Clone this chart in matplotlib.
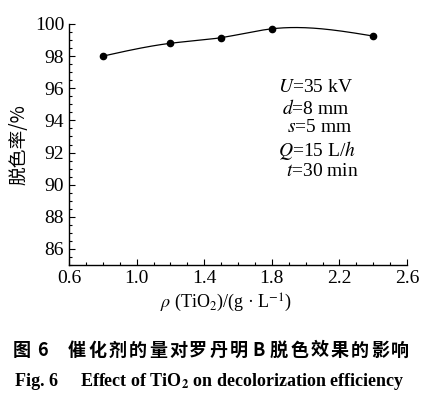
import numpy as np
import matplotlib

matplotlib.use("Agg")
from matplotlib import pyplot as plt
from matplotlib.ticker import MultipleLocator

# data
tio2 = [0.8, 1.2, 1.5, 1.8, 2.4]
decolor = [98.0, 98.8, 99.15, 99.7, 99.25]
conditions = ["$U$=35 kV", "$d$=8 mm", "$s$=5 mm", "$Q$=15 L/$h$", "$t$=30 min"]
x_ticks = [0.6, 1.0, 1.4, 1.8, 2.2, 2.6]
y_ticks = [86, 88, 90, 92, 94, 96, 98, 100]
caption_cn = "催化剂的量对罗丹明B脱色效果的影响"

plt.rcParams["font.family"] = ["Liberation Serif", "Noto Sans CJK SC"]
plt.rcParams["mathtext.fontset"] = "stix"
CJK = ["Noto Sans CJK SC", "DejaVu Sans"]


def natural_spline(x, y, n=200):
    x = np.asarray(x, float)
    y = np.asarray(y, float)
    k = len(x)
    h = np.diff(x)
    a = np.zeros((k, k))
    b = np.zeros(k)
    a[0, 0] = a[-1, -1] = 1.0
    for i in range(1, k - 1):
        a[i, i - 1] = h[i - 1]
        a[i, i] = 2 * (h[i - 1] + h[i])
        a[i, i + 1] = h[i]
        b[i] = 6 * ((y[i + 1] - y[i]) / h[i] - (y[i] - y[i - 1]) / h[i - 1])
    m = np.linalg.solve(a, b)
    xs = np.linspace(x[0], x[-1], n)
    idx = np.clip(np.searchsorted(x, xs) - 1, 0, k - 2)
    x0, x1 = x[idx], x[idx + 1]
    hh = x1 - x0
    t0, t1 = x1 - xs, xs - x0
    ys = (m[idx] * t0**3 + m[idx + 1] * t1**3) / (6 * hh) \
        + (y[idx] / hh - m[idx] * hh / 6) * t0 + (y[idx + 1] / hh - m[idx + 1] * hh / 6) * t1
    return xs, ys


W, H = 428, 399
fig = plt.figure(figsize=(W / 100, H / 100), dpi=100)
ax = fig.add_axes([69 / W, 1 - 265 / H, 338 / W, 241 / H])

xs, ys = natural_spline(tio2, decolor)
ax.plot(xs, ys, color="black", lw=0.9)
ax.plot(tio2, decolor, "o", color="black", ms=4.5)

ax.set_xlim(0.6, 2.6)
ax.set_ylim(85, 100)
ax.set_xticks(x_ticks)
ax.set_xticklabels([f"{v:.1f}" for v in x_ticks])
ax.set_yticks(y_ticks)
ax.xaxis.set_minor_locator(MultipleLocator(0.1))
ax.yaxis.set_minor_locator(MultipleLocator(0.5))
ax.tick_params(which="both", direction="in", labelsize=14, width=0.8)
ax.tick_params(which="major", length=4)
ax.tick_params(which="minor", length=2)
ax.spines["top"].set_visible(False)
ax.spines["right"].set_visible(False)
ax.spines["left"].set_linewidth(1.0)
ax.spines["bottom"].set_linewidth(1.0)

fig.text(226 / W, 1 - 303 / H, r"$\rho$ (TiO$_2$)/(g · L$^{-1}$)", fontsize=13,
         ha="center", va="center")
ax.set_ylabel("脱色率/%", fontsize=13.5, family=CJK, labelpad=4)

# condition block
x_px = [278, 282, 287, 278, 286]
y_px = [88, 108, 128, 150, 172]
for txt, xp, yp in zip(conditions, x_px, y_px):
    fig.text(xp / W, 1 - yp / H, txt, fontsize=14, va="center", ha="left")

# caption, characters spaced like the printed figure
fig.text(22 / W, 1 - 350 / H, "图", fontsize=13, weight="bold", ha="center", va="center", family=CJK)
fig.text(42 / W, 1 - 350 / H, "6", fontsize=13, weight="bold", ha="center", va="center", family=CJK)
for i, ch in enumerate(caption_cn):
    fig.text((77 + i * 20.2) / W, 1 - 350 / H, ch, fontsize=13, weight="bold",
             ha="center", va="center", family=CJK)
fig.text(15 / W, 1 - 381 / H, "Fig. 6", fontsize=13, weight="bold", ha="left", va="center")
fig.text(80 / W, 1 - 381 / H, r"Effect of TiO$_\mathbf{2}$ on decolorization efficiency",
         fontsize=13, weight="bold", ha="left", va="center")

fig.savefig("out.png", dpi=100)
